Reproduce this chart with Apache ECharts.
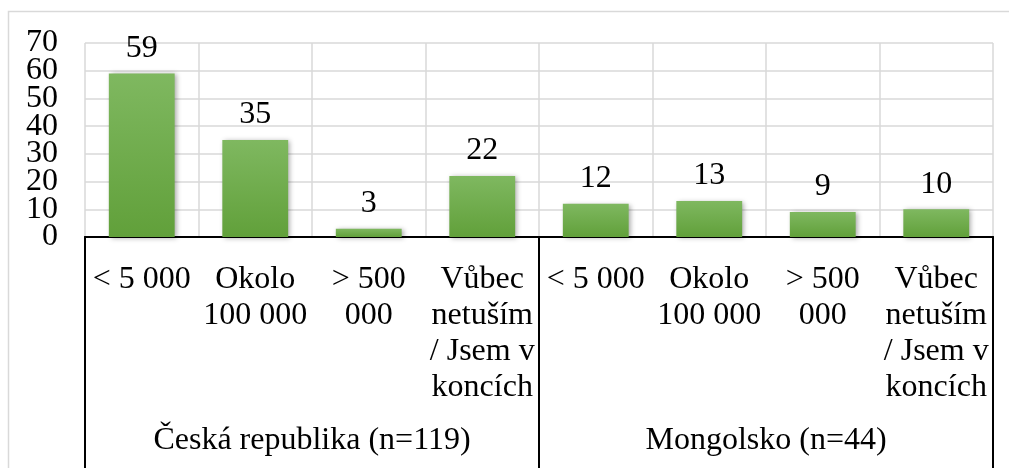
<!DOCTYPE html>
<html>
<head>
<meta charset="utf-8">
<script src="https://cdn.jsdelivr.net/npm/echarts@6/dist/echarts.min.js"></script>
<style>
    html, body { margin: 0; padding: 0; background: #fff; }
    #chart { width: 1009px; height: 468px; }
</style>
</head>
<body>
<div id="chart"></div>
<script>
    // categories: answers repeated for each country group
    const categories = [
        '< 5 000', 'Okolo\n100 000', '> 500\n000', 'Vůbec\nnetuším\n/ Jsem v\nkoncích',
        '< 5 000', 'Okolo\n100 000', '> 500\n000', 'Vůbec\nnetuším\n/ Jsem v\nkoncích'
    ];
    const groups = ['Česká republika (n=119)', 'Mongolsko (n=44)'];
    const values = [59, 35, 3, 22, 12, 13, 9, 10];
    const yMin = 0, yMax = 70, yStep = 10;

    const font = '"Liberation Serif", "Times New Roman", serif';
    const myChart = echarts.init(document.getElementById('chart'));

    // the tick labels are taller than the gap between ticks, so every other
    // label goes on a second (overlaid) value axis to stop them being hidden
    function valueAxis(parity, withGrid) {
        return {
            type: 'value',
            position: 'left',
            min: yMin,
            max: yMax,
            interval: yStep,
            axisLine: { show: false },
            axisTick: { show: false },
            splitLine: { show: withGrid, lineStyle: { color: '#d9d9d9', width: 1.5 } },
            axisLabel: {
                margin: 27,
                showMinLabel: true,
                showMaxLabel: true,
                hideOverlap: false,
                color: '#000',
                fontFamily: font,
                fontSize: 32,
                formatter: v => ((v / yStep) % 2 === parity ? String(v) : '')
            }
        };
    }

    let option = {
        animation: false,
        graphic: [{
            type: 'rect',
            shape: { x: 8.5, y: 11.5, width: 1010, height: 470 },
            style: { fill: 'none', stroke: '#d9d9d9', lineWidth: 1.5 },
            silent: true
        }],
        grid: { left: 85, right: 16, top: 43, bottom: 231, containLabel: false },
        xAxis: [
            {
                type: 'category',
                data: categories,
                position: 'bottom',
                axisLine: { show: true, lineStyle: { color: '#000', width: 2 } },
                axisTick: { show: false },
                splitLine: { show: true, lineStyle: { color: '#d9d9d9', width: 1.5 } },
                axisLabel: {
                    interval: 0,
                    margin: 25,
                    color: '#000',
                    fontFamily: font,
                    fontSize: 32,
                    lineHeight: 36,
                    align: 'center'
                }
            },
            {
                type: 'category',
                data: groups,
                position: 'bottom',
                axisLine: { show: true, lineStyle: { color: '#000', width: 2 } },
                axisTick: { show: true, length: 240, lineStyle: { color: '#000', width: 2 } },
                axisLabel: {
                    interval: 0,
                    margin: 186,
                    color: '#000',
                    fontFamily: font,
                    fontSize: 32,
                    lineHeight: 36
                }
            }
        ],
        yAxis: [valueAxis(0, true), valueAxis(1, false)],
        series: [
            {
                type: 'bar',
                xAxisIndex: 0,
                yAxisIndex: 0,
                data: values,
                barWidth: '58%',
                itemStyle: {
                    color: new echarts.graphic.LinearGradient(0, 0, 0, 1, [
                        { offset: 0, color: '#7fb860' },
                        { offset: 1, color: '#61a03a' }
                    ]),
                    shadowColor: 'rgba(0,0,0,0.35)',
                    shadowBlur: 5,
                    shadowOffsetX: 2,
                    shadowOffsetY: 1
                },
                label: {
                    show: true,
                    position: 'top',
                    distance: 9,
                    color: '#000',
                    fontFamily: font,
                    fontSize: 32
                }
            }
        ]
    };
    myChart.setOption(option);
</script>
</body>
</html>
